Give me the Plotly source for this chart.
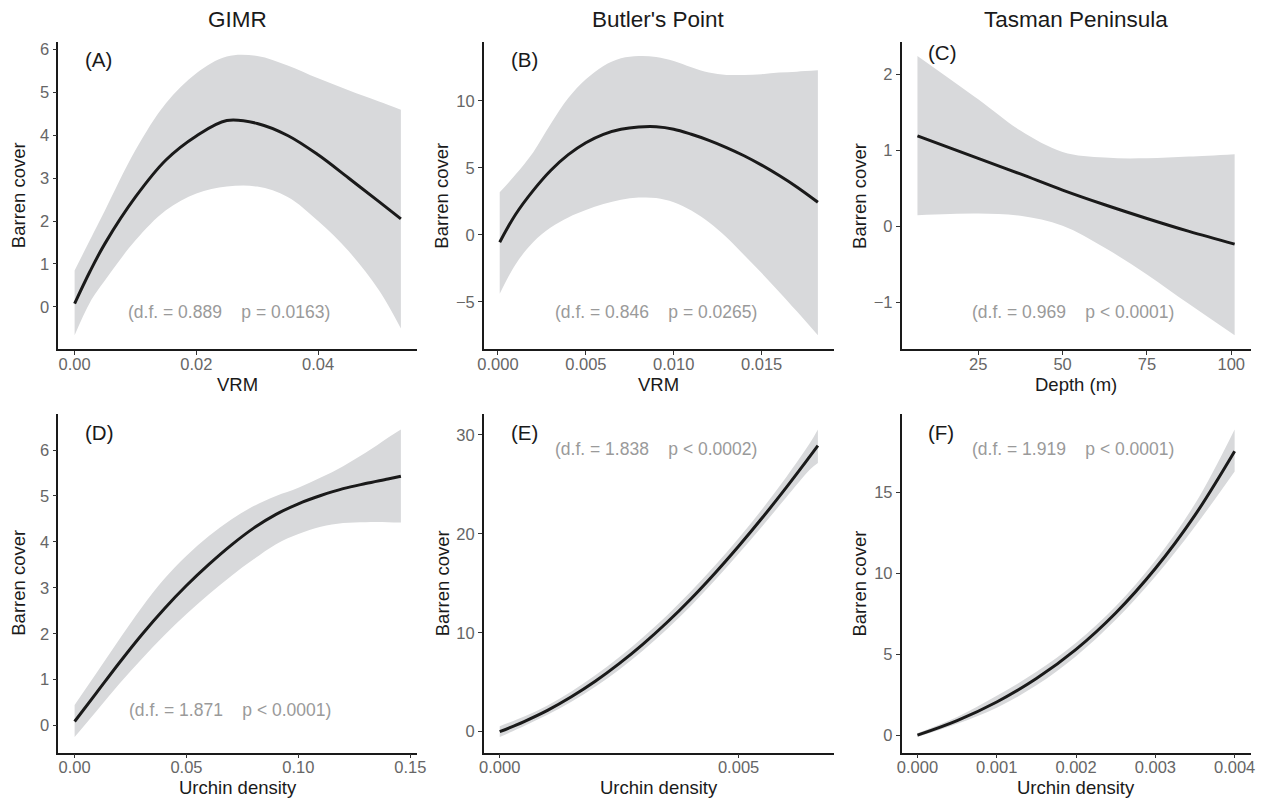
import plotly.graph_objects as go

# ---------------- data ----------------
# (A) GIMR - VRM
A_x = [0, 0.0025, 0.005, 0.01, 0.015, 0.02, 0.025, 0.03, 0.035, 0.04, 0.045, 0.05, 0.0536]
A_fit = [0.08, 0.82, 1.48, 2.56, 3.42, 3.98, 4.34, 4.27, 3.99, 3.54, 3.0, 2.45, 2.05]
A_up = [0.85, 1.55, 2.25, 3.65, 4.74, 5.44, 5.83, 5.84, 5.62, 5.32, 5.04, 4.78, 4.59]
A_lo = [-0.66, 0.1, 0.62, 1.55, 2.25, 2.64, 2.8, 2.8, 2.56, 2.0, 1.3, 0.39, -0.5]

# (B) Butler's Point - VRM
B_x = [0.0001, 0.001, 0.002, 0.003, 0.004, 0.005, 0.006, 0.007, 0.008, 0.009, 0.010,
       0.011, 0.012, 0.013, 0.014, 0.015, 0.016, 0.017, 0.0182]
B_fit = [-0.55, 1.52, 3.3, 4.8, 5.98, 6.87, 7.5, 7.87, 8.04, 8.06, 7.88, 7.5, 7.05, 6.51,
         5.9, 5.2, 4.42, 3.57, 2.43]
B_up = [3.17, 4.5, 6.15, 8.26, 10.2, 11.6, 12.6, 13.17, 13.34, 13.27, 12.97, 12.5, 12.1,
        11.93, 11.93, 11.98, 12.1, 12.17, 12.27]
B_lo = [-4.39, -2.2, -0.55, 0.55, 1.3, 1.85, 2.3, 2.62, 2.78, 2.75, 2.43, 1.81, 0.94,
        -0.17, -1.5, -2.85, -4.25, -5.7, -7.49]

# (C) Tasman Peninsula - Depth
C_x = [7, 25, 37.5, 50, 62.5, 75, 87.5, 101]
C_fit = [1.19, 0.895, 0.69, 0.478, 0.285, 0.105, -0.065, -0.232]
C_up = [2.24, 1.67, 1.26, 0.98, 0.905, 0.896, 0.918, 0.95]
C_lo = [0.149, 0.17, 0.14, 0.01, -0.28, -0.63, -1.02, -1.43]

# (D) GIMR - Urchin density
D_x = [0, 0.01, 0.02, 0.03, 0.04, 0.05, 0.06, 0.07, 0.08, 0.09, 0.10, 0.11, 0.12, 0.13, 0.14, 0.1458]
D_fit = [0.09, 0.73, 1.37, 1.98, 2.54, 3.05, 3.51, 3.93, 4.3, 4.6, 4.83, 5.01, 5.16, 5.27, 5.37, 5.43]
D_up = [0.45, 1.16, 1.88, 2.57, 3.19, 3.7, 4.13, 4.49, 4.78, 5.0, 5.18, 5.4, 5.65, 5.94, 6.27, 6.45]
D_lo = [-0.25, 0.33, 0.91, 1.45, 1.96, 2.43, 2.86, 3.26, 3.62, 3.95, 4.17, 4.33, 4.41, 4.43, 4.43, 4.42]

# (E) Butler's Point - Urchin density
E_x = [0, 0.0005, 0.001, 0.0015, 0.002, 0.0025, 0.003, 0.0035, 0.004, 0.0045, 0.005,
       0.0055, 0.006, 0.0065, 0.00666]
E_fit = [0, 1.0, 2.15, 3.52, 5.09, 6.87, 8.85, 11.03, 13.41, 15.99, 18.74, 21.64, 24.69, 27.87, 28.9]
E_up = [0.55, 1.5, 2.65, 4.07, 5.69, 7.52, 9.55, 11.75, 14.16, 16.77, 19.54, 22.54, 25.74, 29.22, 30.55]
E_lo = [-0.55, 0.55, 1.7, 3.02, 4.54, 6.27, 8.2, 10.35, 12.71, 15.27, 17.99, 20.79, 23.69, 26.52, 27.15]

# (F) Tasman Peninsula - Urchin density
F_x = [0, 0.0005, 0.001, 0.0015, 0.002, 0.0025, 0.003, 0.0035, 0.004]
F_fit = [0, 0.9, 2.05, 3.5, 5.3, 7.55, 10.3, 13.6, 17.55]
F_up = [0.12, 1.12, 2.43, 3.92, 5.72, 7.97, 10.8, 14.3, 18.9]
F_lo = [-0.12, 0.7, 1.7, 3.08, 4.88, 7.13, 9.8, 12.9, 16.3]

col_titles = ["GIMR", "Butler's Point", "Tasman Peninsula"]
panel_labels = ["(A)", "(B)", "(C)", "(D)", "(E)", "(F)"]
x_titles = ["VRM", "VRM", "Depth (m)", "Urchin density", "Urchin density", "Urchin density"]
y_title = "Barren cover"
stats = ["(d.f. = 0.889    p = 0.0163)", "(d.f. = 0.846    p = 0.0265)",
         "(d.f. = 0.969    p < 0.0001)", "(d.f. = 1.871    p < 0.0001)",
         "(d.f. = 1.838    p < 0.0002)", "(d.f. = 1.919    p < 0.0001)"]
x_ticks = [[0, 0.02, 0.04], [0, 0.005, 0.010, 0.015], [25, 50, 75, 100],
           [0, 0.05, 0.10, 0.15], [0, 0.005], [0, 0.001, 0.002, 0.003, 0.004]]
x_fmt = [".2f", ".3f", "", ".2f", ".3f", ".3f"]
y_ticks = [[0, 1, 2, 3, 4, 5, 6], [-5, 0, 5, 10], [-1, 0, 1, 2],
           [0, 1, 2, 3, 4, 5, 6], [0, 10, 20, 30], [0, 5, 10, 15]]

panels = [(A_x, A_fit, A_up, A_lo), (B_x, B_fit, B_up, B_lo), (C_x, C_fit, C_up, C_lo),
          (D_x, D_fit, D_up, D_lo), (E_x, E_fit, E_up, E_lo), (F_x, F_fit, F_up, F_lo)]

# ---------------- layout geometry (pixels) ----------------
W, H = 1261, 801
col_px = [(58.3, 417.2), (483.8, 833.8), (901.6, 1250.5)]
row_px = [(42.0, 349.3), (414.0, 752.5)]
ytitle_x = [18.5, 442.0, 859.3]
label_pos = [(83, 60), (509, 60), (926, 52), (83, 432.5), (509, 432.5), (926, 432.5)]
stats_pos = [(229, 312), (656, 312), (1073, 312), (229.7, 710), (655.5, 449), (1072.7, 449)]

FONT = "Liberation Sans, Arial, Helvetica, sans-serif"
FILL = "#d8d9db"
LINE = "#1a1a1a"


def px2x(p):
    return p / W


def px2y(p):
    return 1 - p / H


def expand(lo, hi, f=0.05):
    d = (hi - lo) * f
    return [lo - d, hi + d]


fig = go.Figure()
annotations = []

for i, (xs, fit, up, lo) in enumerate(panels):
    r, c = divmod(i, 3)
    n = i + 1
    xa = "x" if n == 1 else f"x{n}"
    ya = "y" if n == 1 else f"y{n}"
    fig.add_trace(go.Scatter(x=xs, y=lo, mode="lines", line=dict(width=0, shape="spline", color=FILL),
                             showlegend=False, hoverinfo="skip", xaxis=xa, yaxis=ya))
    fig.add_trace(go.Scatter(x=xs, y=up, mode="lines", line=dict(width=0, shape="spline", color=FILL),
                             fill="tonexty", fillcolor=FILL, showlegend=False, hoverinfo="skip",
                             xaxis=xa, yaxis=ya))
    fig.add_trace(go.Scatter(x=xs, y=fit, mode="lines", line=dict(width=3, shape="spline", color=LINE),
                             showlegend=False, xaxis=xa, yaxis=ya))

    x0, x1 = col_px[c]
    y0, y1 = row_px[r]
    common = dict(showgrid=False, zeroline=False, showline=True, linecolor="#1a1a1a", linewidth=1.6,
                  ticks="outside", ticklen=4, tickwidth=1, tickcolor="#333333",
                  tickfont=dict(family=FONT, size=16.5, color="#666666"), automargin=False)
    xkey = "xaxis" if n == 1 else f"xaxis{n}"
    ykey = "yaxis" if n == 1 else f"yaxis{n}"
    fig.update_layout(**{
        xkey: dict(common, domain=[px2x(x0), px2x(x1)], anchor=ya,
                   range=expand(min(xs), max(xs)), tickvals=x_ticks[i],
                   tickformat=x_fmt[i], ticklabelstandoff=-5),
        ykey: dict(common, domain=[px2y(y1), px2y(y0)], anchor=xa,
                   range=expand(min(lo), max(up)), tickvals=y_ticks[i]),
    })

    # panel label
    lx, ly = label_pos[i]
    annotations.append(dict(text=panel_labels[i], x=px2x(lx), y=px2y(ly), xref="paper", yref="paper",
                            xanchor="left", yanchor="middle", showarrow=False,
                            font=dict(family=FONT, size=20.5, color="#1a1a1a")))
    # stats text
    sx, sy = stats_pos[i]
    annotations.append(dict(text=stats[i].replace(" ", "\u00a0"), x=px2x(sx), y=px2y(sy),
                            xref="paper", yref="paper", xanchor="center", yanchor="middle",
                            showarrow=False, font=dict(family=FONT, size=17.5, color="#9a9a9a")))
    # x title
    annotations.append(dict(text=x_titles[i], x=px2x((x0 + x1) / 2), y=px2y(y1 + 35),
                            xref="paper", yref="paper", xanchor="center", yanchor="middle",
                            showarrow=False, font=dict(family=FONT, size=18.5, color="#1a1a1a")))
    # y title
    annotations.append(dict(text=y_title, x=px2x(ytitle_x[c]), y=px2y((y0 + y1) / 2),
                            xref="paper", yref="paper", xanchor="center", yanchor="middle",
                            textangle=-90, showarrow=False,
                            font=dict(family=FONT, size=18.5, color="#1a1a1a")))

for c in range(3):
    x0, x1 = col_px[c]
    annotations.append(dict(text=col_titles[c], x=px2x((x0 + x1) / 2), y=px2y(20),
                            xref="paper", yref="paper", xanchor="center", yanchor="middle",
                            showarrow=False, font=dict(family=FONT, size=22.5, color="#1a1a1a")))

fig.update_layout(width=W, height=H, margin=dict(l=0, r=0, t=0, b=0, autoexpand=False),
                  paper_bgcolor="white", plot_bgcolor="white", annotations=annotations,
                  showlegend=False, font=dict(family=FONT))

fig.write_html("out.html", config={"displayModeBar": False},
               post_script="document.body.style.margin='0px';")
